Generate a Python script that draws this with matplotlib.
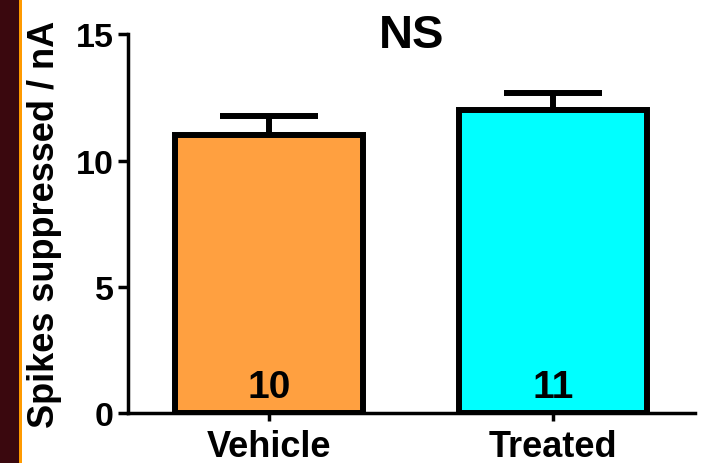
"""
Spikes suppressed per nA, vehicle vs treated (bar + SEM).
"""

import matplotlib
matplotlib.use("Agg")
import matplotlib.pyplot as plt
from matplotlib.patches import Rectangle

#___Data___#
groups = ["Vehicle", "Treated"]
means = [11.0, 12.0]
sems = [0.75, 0.68]
counts = ["10", "11"]
bar_colors = ["#FFA040", "#00FFFF"]
y_ticks = [0, 5, 10, 15]

#___Figure___#
plt.rcParams['font.family'] = ['Liberation Sans', 'DejaVu Sans']
plt.rcParams['font.weight'] = 'bold'

fig = plt.figure(figsize=(7.01, 4.64), dpi=100)
ax = fig.add_axes([0.1819, 0.1088, 0.8095, 0.8147])

# dark strip on the left edge
fig.patches.append(Rectangle((0, 0), 19/701, 1, transform=fig.transFigure,
                             facecolor="#3a080e", edgecolor="none", zorder=0))
fig.patches.append(Rectangle((19/701, 0), 3/701, 1, transform=fig.transFigure,
                             facecolor="#ff9a00", edgecolor="none", zorder=0))

x = range(len(groups))
ax.errorbar(x, means, yerr=[[0, 0], sems], fmt='none', ecolor='black',
            elinewidth=4.3, capsize=35, capthick=4.3, zorder=1)
ax.bar(x, means, width=0.663, color=bar_colors, edgecolor='black',
       linewidth=4.3, zorder=2)

for i, c in enumerate(counts):
    ax.text(i, 0.6, c, ha='center', va='baseline', fontsize=28,
            fontweight='bold', zorder=3)

ax.set_xlim(-0.5, 1.5)
ax.set_ylim(0, 15)
ax.set_yticks(y_ticks)
ax.set_xticks(list(x))
ax.set_xticklabels(groups, fontsize=26, fontweight='bold')
ax.tick_params(axis='y', labelsize=24.5, width=2.5, length=7, pad=3)
ax.tick_params(axis='x', width=2.5, length=6, pad=6)
for lab in ax.get_yticklabels():
    lab.set_fontweight('bold')

ax.spines['top'].set_visible(False)
ax.spines['right'].set_visible(False)
ax.spines['left'].set_linewidth(2.5)
ax.spines['bottom'].set_linewidth(2.5)

ax.set_ylabel("Spikes suppressed / nA", fontsize=26, fontweight='bold', labelpad=10)
ax.text(0.5, 0.967, "NS", transform=ax.transAxes, ha='center', va='baseline',
        fontsize=34, fontweight='bold')

fig.savefig("out.png", dpi=100)
